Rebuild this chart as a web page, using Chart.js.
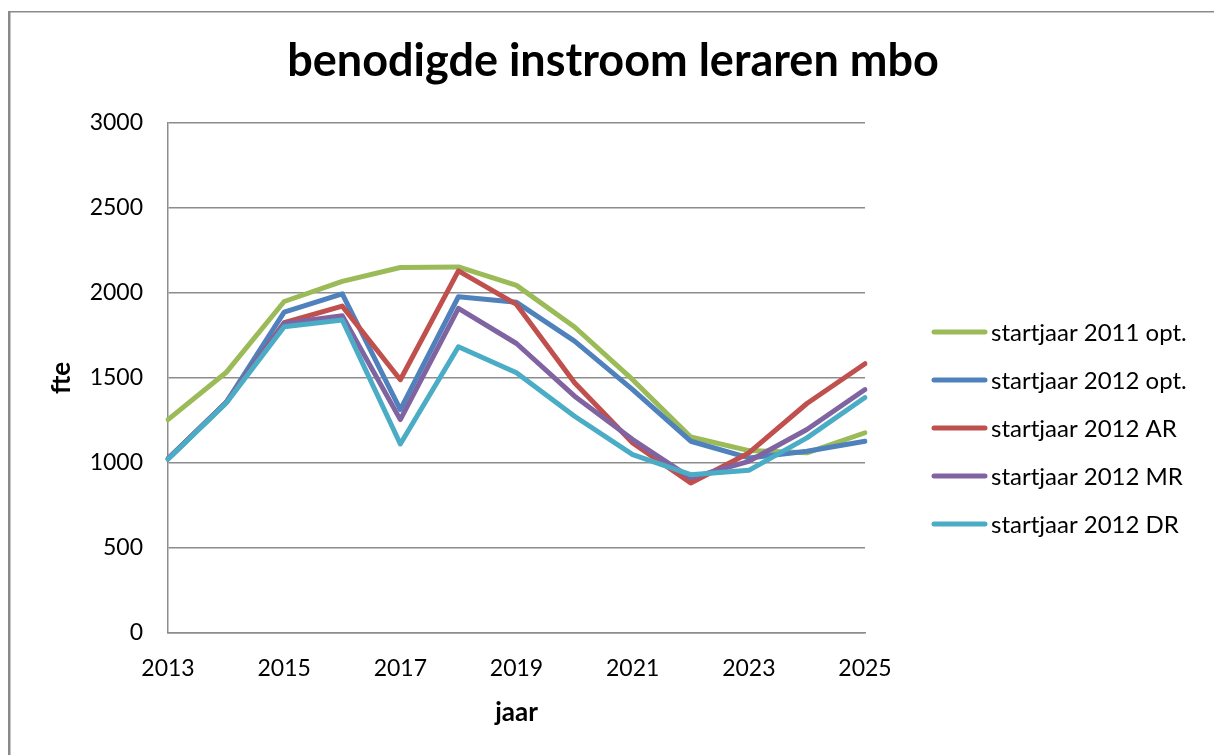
<!DOCTYPE html>
<html>
<head>
<meta charset="utf-8">
<script src="https://cdn.jsdelivr.net/npm/chart.js@4/dist/chart.umd.min.js"></script>
<style>
  html, body { margin: 0; padding: 0; background: #ffffff; }
  #wrap { width: 1214px; height: 755px; }
</style>
</head>
<body>
<div id="wrap"><canvas id="chart" width="1214" height="755"></canvas></div>
<script>
// Years on the horizontal axis
const years = ['2013','2014','2015','2016','2017','2018','2019','2020','2021','2022','2023','2024','2025'];

// Required teacher inflow (fte) per scenario
const startjaar2011Opt = [1255, 1532, 1950, 2068, 2150, 2153, 2045, 1800, 1490, 1153, 1073, 1060, 1178];
const startjaar2012Opt = [1025, 1356, 1888, 1995, 1314, 1978, 1945, 1717, 1432, 1128, 1030, 1069, 1128];
const startjaar2012AR  = [1025, 1356, 1825, 1923, 1490, 2130, 1933, 1472, 1118,  882, 1059, 1350, 1584];
const startjaar2012MR  = [1025, 1356, 1820, 1866, 1255, 1910, 1703, 1393, 1138,  912, 1010, 1197, 1432];
const startjaar2012DR  = [1022, 1352, 1802, 1841, 1112, 1684, 1531, 1275, 1049,  931,  957, 1148, 1385];

const seriesNames = ['startjaar 2011 opt.', 'startjaar 2012 opt.', 'startjaar 2012 AR', 'startjaar 2012 MR', 'startjaar 2012 DR'];
const seriesColors = ['#9BBB59', '#4F81BD', '#C0504D', '#8064A2', '#4BACC6'];
const seriesValues = [startjaar2011Opt, startjaar2012Opt, startjaar2012AR, startjaar2012MR, startjaar2012DR];

const FONT = 'Lato, "Open Sans", sans-serif';
const GRID = '#8c8c8c';
const LEFT_PAD = 12;

const datasets = seriesValues.map((vals, i) => ({
  label: seriesNames[i],
  data: vals,
  borderColor: seriesColors[i],
  backgroundColor: seriesColors[i],
  borderWidth: 5,
  borderCapStyle: 'round',
  borderJoinStyle: 'round',
  pointRadius: 0,
  pointHoverRadius: 0,
  tension: 0,
  fill: false,
  yAxisID: 'y',
  // later series are painted on top of earlier ones
  order: seriesValues.length - i
}));

// Outer frame of the chart object
const framePlugin = {
  id: 'frame',
  beforeDraw(chart) {
    const ctx = chart.ctx;
    ctx.save();
    ctx.fillStyle = '#8a8a8a';
    ctx.fillRect(8, 11, 2.5, chart.height);
    ctx.fillRect(8, 11, chart.width, 1.5);
    ctx.restore();
  }
};

// Legend on the right, one line sample + text per series
const sideLegend = {
  id: 'sideLegend',
  afterDraw(chart) {
    const ctx = chart.ctx;
    ctx.save();
    ctx.font = '24px ' + FONT;
    ctx.textBaseline = 'middle';
    ctx.textAlign = 'left';
    chart.data.datasets.forEach((ds, i) => {
      const y = 332 + i * 48;
      ctx.strokeStyle = ds.borderColor;
      ctx.lineWidth = 5;
      ctx.lineCap = 'round';
      ctx.beginPath();
      ctx.moveTo(934, y);
      ctx.lineTo(985, y);
      ctx.stroke();
      ctx.fillStyle = '#000000';
      ctx.fillText(ds.label, 991, y + 1);
    });
    ctx.restore();
  }
};

new Chart(document.getElementById('chart'), {
  type: 'line',
  data: { labels: years, datasets: datasets },
  plugins: [framePlugin, sideLegend],
  options: {
    responsive: false,
    animation: false,
    events: [],
    layout: { padding: { left: LEFT_PAD, right: 0, top: 0, bottom: 0 } },
    plugins: {
      legend: { display: false },
      tooltip: { enabled: false },
      title: {
        display: true,
        text: 'benodigde instroom leraren mbo',
        color: '#000000',
        font: { family: FONT, size: 45, weight: 'bold', lineHeight: 1.2 },
        padding: { top: 34, bottom: 35 }
      }
    },
    scales: {
      x: {
        offset: false,
        grid: { display: false, drawTicks: false },
        border: { display: true, color: GRID, width: 1.5 },
        ticks: {
          autoSkip: false,
          maxRotation: 0,
          padding: 22,
          color: '#000000',
          font: { family: FONT, size: 23 },
          callback: function (value, index) { return index % 2 === 0 ? this.getLabelForValue(value) : ''; }
        },
        title: {
          display: true,
          text: 'jaar',
          color: '#000000',
          font: { family: FONT, size: 26, weight: 'bold', lineHeight: 1.2 },
          padding: { top: 0, bottom: 27 }
        },
        afterFit(scale) { scale.height = 755 - 633; }
      },
      y: {
        min: 0,
        max: 3000,
        grid: { color: GRID, lineWidth: 1.5, drawTicks: false },
        border: { display: true, color: GRID, width: 1.5 },
        ticks: {
          stepSize: 500,
          padding: 25,
          color: '#000000',
          font: { family: FONT, size: 23 },
          callback: (value) => String(value)
        },
        title: {
          display: true,
          text: 'fte',
          color: '#000000',
          font: { family: FONT, size: 26, weight: 'bold', lineHeight: 1.2 },
          padding: { top: 46 - LEFT_PAD, bottom: 0 }
        },
        afterFit(scale) { scale.width = 168 - LEFT_PAD; }
      },
      // empty right-hand axis that keeps room free for the legend
      legendSpace: {
        type: 'linear',
        position: 'right',
        display: true,
        grid: { display: false, drawTicks: false },
        border: { display: false },
        ticks: { display: false },
        afterFit(scale) { scale.width = 1214 - 865; }
      }
    }
  }
});
</script>
</body>
</html>
